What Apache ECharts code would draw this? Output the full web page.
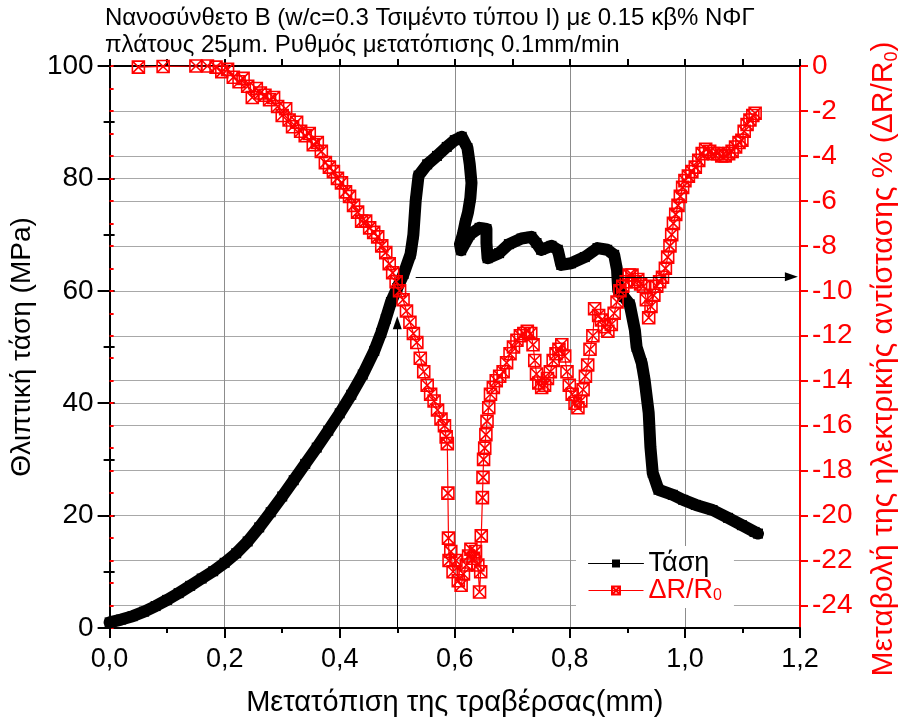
<!DOCTYPE html>
<html>
<head>
<meta charset="utf-8">
<script src="https://cdn.jsdelivr.net/npm/echarts@6/dist/echarts.min.js"></script>
<style>
  html, body { margin: 0; padding: 0; background: #fff; }
  #chart { width: 909px; height: 728px; }
</style>
</head>
<body>
<div id="chart"></div>
<script>
// Stress curve (MPa) against crosshead displacement (mm)
const stressX = [0.000, 0.02, 0.04, 0.06, 0.08, 0.10, 0.12, 0.14, 0.16, 0.18, 0.20, 0.22, 0.24, 0.26, 0.28, 0.30,
  0.32, 0.34, 0.36, 0.38, 0.40, 0.42, 0.44, 0.46, 0.472, 0.48, 0.489, 0.50, 0.511, 0.523, 0.528, 0.532, 0.537,
  0.552, 0.569, 0.586, 0.600, 0.612, 0.622, 0.626, 0.629, 0.627, 0.623, 0.618, 0.614, 0.609, 0.611, 0.626,
  0.643, 0.655, 0.655, 0.657, 0.677, 0.694, 0.716, 0.733, 0.742, 0.750, 0.768, 0.779, 0.785, 0.802, 0.826,
  0.848, 0.865, 0.877, 0.882, 0.884, 0.894, 0.904, 0.913, 0.916, 0.925, 0.930, 0.937, 0.940, 0.944, 0.954,
  0.979, 0.997, 1.019, 1.048, 1.075, 1.099, 1.121, 1.127];
const stressY = [1.0, 1.5, 2.1, 2.9, 3.9, 5.0, 6.2, 7.5, 8.8, 10.1, 11.6, 13.3, 15.4, 17.9, 20.6, 23.4,
  26.3, 29.2, 32.1, 35.1, 38.2, 41.5, 45.1, 49.3, 52.5, 55.0, 58.0, 60.5, 63.0, 66.5, 70.0, 76.0, 80.5,
  82.5, 84.0, 85.6, 86.8, 87.4, 85.4, 82.5, 79.2, 76.5, 74.0, 72.0, 70.0, 68.3, 67.2, 70.0,
  71.2, 71.0, 68.5, 65.8, 66.7, 68.3, 69.3, 69.6, 68.5, 67.3, 68.0, 67.3, 64.6, 64.9, 66.0,
  67.6, 67.3, 66.4, 63.7, 60.1, 58.9, 57.6, 53.0, 50.0, 47.1, 44.1, 38.3, 32.2, 27.6, 24.6,
  23.7, 22.8, 21.9, 21.0, 19.6, 18.3, 17.1, 16.8];

// Relative change of electrical resistance ΔR/R0 (%)
const resX = [0.050, 0.093, 0.150, 0.170, 0.185, 0.195, 0.205, 0.215, 0.225, 0.232, 0.240, 0.248, 0.255, 0.262,
  0.270, 0.278, 0.285, 0.292, 0.300, 0.306, 0.312, 0.318, 0.325, 0.332, 0.340, 0.347, 0.354, 0.361, 0.368,
  0.375, 0.382, 0.389, 0.396, 0.403, 0.410, 0.417, 0.424, 0.431, 0.438, 0.445, 0.452, 0.459, 0.466, 0.473,
  0.480, 0.486, 0.492, 0.498, 0.504, 0.510, 0.516, 0.522, 0.528, 0.534, 0.540, 0.546, 0.552, 0.558, 0.564,
  0.570, 0.576, 0.582, 0.585, 0.587, 0.588, 0.589, 0.590, 0.593, 0.597, 0.602, 0.606, 0.611, 0.615, 0.620,
  0.624, 0.628, 0.632, 0.636, 0.640, 0.643, 0.645, 0.646, 0.648, 0.649, 0.650, 0.652, 0.654, 0.656, 0.659,
  0.662, 0.667, 0.672, 0.678, 0.684, 0.690, 0.696, 0.702, 0.708, 0.714, 0.720, 0.726, 0.732, 0.736, 0.739,
  0.742, 0.746, 0.751, 0.756, 0.761, 0.766, 0.771, 0.776, 0.781, 0.786, 0.791, 0.795, 0.799, 0.804, 0.809,
  0.814, 0.819, 0.823, 0.827, 0.831, 0.835, 0.840, 0.843, 0.850, 0.855, 0.860, 0.866, 0.872, 0.877, 0.882,
  0.887, 0.892, 0.898, 0.903, 0.908, 0.913, 0.918, 0.923, 0.928, 0.933, 0.937, 0.941, 0.946, 0.951, 0.956,
  0.961, 0.966, 0.970, 0.974, 0.977, 0.980, 0.984, 0.988, 0.992, 0.996, 1.000, 1.006, 1.012, 1.018, 1.024,
  1.030, 1.036, 1.043, 1.050, 1.057, 1.064, 1.070, 1.076, 1.082, 1.088, 1.094, 1.099, 1.103, 1.108, 1.113,
  1.118, 1.122];
const resY = [-0.05, -0.02, 0.0, 0.0, -0.05, -0.25, -0.15, -0.5, -0.7, -0.55, -0.9, -1.4, -1.0, -1.2,
  -1.3, -1.5, -1.4, -1.8, -2.2, -1.9, -2.4, -2.7, -2.5, -2.9, -3.1, -3.0, -3.5, -3.4, -3.8,
  -4.3, -4.5, -4.7, -5.0, -5.2, -5.6, -5.8, -6.2, -6.5, -6.9, -6.9, -7.2, -7.4, -7.6, -8.0,
  -8.3, -8.8, -9.2, -9.6, -10.0, -10.4, -10.9, -11.4, -11.9, -12.3, -13.0, -13.6, -14.2, -14.6, -14.9,
  -15.3, -15.7, -16.0, -16.5, -16.8, -19.0, -21.0, -22.0, -21.6, -22.5, -22.0, -22.9, -23.1, -22.6, -22.2,
  -21.8, -21.5, -21.9, -21.6, -22.2, -23.4, -22.5, -20.9, -19.2, -18.3, -17.5, -17.0, -16.4, -15.8, -15.2,
  -14.6, -14.3, -14.0, -13.8, -13.6, -13.2, -12.8, -12.5, -12.2, -12.0, -11.9, -11.8, -11.9, -12.4, -13.1,
  -13.7, -14.1, -14.3, -14.2, -13.9, -13.6, -13.1, -12.8, -12.6, -12.4, -12.9, -13.6, -14.2, -14.6, -15.0,
  -15.2, -14.9, -14.4, -13.8, -13.3, -12.6, -12.0, -10.8, -11.1, -11.3, -11.6, -11.8, -11.5, -11.0, -10.5,
  -10.0, -9.8, -9.6, -9.3, -9.3, -9.6, -9.5, -9.7, -9.8, -10.4, -11.2, -10.7, -10.2, -9.8, -9.6,
  -9.4, -9.0, -8.5, -8.0, -7.5, -7.0, -6.6, -6.2, -5.8, -5.4, -5.1, -4.9, -4.7, -4.5, -4.2,
  -3.9, -3.7, -3.8, -3.9, -3.9, -4.0, -4.0, -3.9, -3.8, -3.6, -3.4, -3.3, -2.9, -2.6, -2.4,
  -2.2, -2.1];

// Axis ranges and ticks
const xTicks = [0, 1.2, 0.2];
const stressTicks = [0, 100, 20];
const resRange = [-25, 0];
const resLabels = [0, -2, -4, -6, -8, -10, -12, -14, -16, -18, -20, -22, -24];

// Annotation arrows, in displacement / stress units
const arrowUp = [[0.5, 0], [0.5, 54.3]];
const arrowRight = [[0.532, 62.5], [1.185, 62.5]];

const FONT = 'Liberation Sans, Arial, sans-serif';
const RED = '#ff0000';
const zip = (xs, ys) => xs.map((x, i) => [x, ys[i]]);
const crossBox = 'path://M0,0H10V10H0Z M0,0L10,10 M10,0L0,10';

const chart = echarts.init(document.getElementById('chart'), null, { renderer: 'canvas' });

chart.setOption({
  animation: false,
  backgroundColor: '#fff',
  textStyle: { fontFamily: FONT },
  title: {
    text: 'Νανοσύνθετο Β (w/c=0.3 Τσιμέντο τύπου Ι) με 0.15 κβ% ΝΦΓ\nπλάτους 25μm. Ρυθμός μετατόπισης 0.1mm/min',
    left: 101, top: 5, padding: [0, 4],
    textStyle: { fontFamily: FONT, fontSize: 24, fontWeight: 'normal', color: '#000', lineHeight: 27 }
  },
  grid: { left: 104, right: 103, top: 66, bottom: 100, containLabel: false },
  legend: {
    orient: 'vertical',
    left: 576, top: 546,
    padding: [4, 12, 4, 12],
    backgroundColor: '#fff',
    itemWidth: 55, itemHeight: 10, itemGap: 0,
    textStyle: {
      fontFamily: FONT, fontSize: 27, lineHeight: 27,
      rich: {
        k: { fontFamily: FONT, fontSize: 27, lineHeight: 27, color: '#000' },
        r: { fontFamily: FONT, fontSize: 27, lineHeight: 27, color: RED },
        s: { fontFamily: FONT, fontSize: 16, lineHeight: 16, color: RED, verticalAlign: 'bottom' }
      }
    },
    formatter: n => n === 'Τάση' ? '{k|Τάση}' : '{r|ΔR/R}{s|0}',
    data: [
      { name: 'Τάση', lineStyle: { width: 1, color: '#000' } },
      { name: 'ΔR/R0', lineStyle: { width: 1, color: RED } }
    ]
  },
  xAxis: [
    {
      type: 'value', position: 'bottom',
      min: xTicks[0], max: xTicks[1], interval: xTicks[2],
      name: 'Μετατόπιση της τραβέρσας(mm)', nameLocation: 'middle', nameGap: 60,
      nameTextStyle: { fontFamily: FONT, fontSize: 29, color: '#000' },
      axisLine: { onZero: false, lineStyle: { color: '#000', width: 2 } },
      axisTick: { inside: false, length: 10, lineStyle: { color: '#000', width: 2 } },
      minorTick: { show: true, splitNumber: 2, length: 5, lineStyle: { color: '#000', width: 2 } },
      axisLabel: { fontFamily: FONT, fontSize: 27, color: '#000', margin: 18,
        formatter: v => v.toFixed(1).replace('.', ',') },
      splitLine: { show: true, lineStyle: { color: '#8c8c8c', width: 1 } }
    },
    {
      type: 'value', position: 'top',
      min: xTicks[0], max: xTicks[1], interval: xTicks[2] / 2,
      axisLine: { onZero: false, lineStyle: { color: '#000', width: 2 } },
      axisTick: { inside: false, length: 7, lineStyle: { color: '#000', width: 2 } },
      axisLabel: { show: false },
      splitLine: { show: false }
    }
  ],
  yAxis: [
    {
      type: 'value', position: 'left',
      min: stressTicks[0], max: stressTicks[1], interval: stressTicks[2],
      name: 'Θλιπτική τάση (MPa)', nameLocation: 'middle', nameGap: 67, nameRotate: 90,
      nameTextStyle: { fontFamily: FONT, fontSize: 28, color: '#000' },
      axisLine: { onZero: false, lineStyle: { color: '#000', width: 2 } },
      axisTick: { inside: false, length: 12, lineStyle: { color: '#000', width: 2 } },
      minorTick: { show: true, splitNumber: 2, length: 6, lineStyle: { color: '#000', width: 2 } },
      axisLabel: { fontFamily: FONT, fontSize: 28, color: '#000', margin: 16 },
      splitLine: { show: true, lineStyle: { color: '#a8a8a8', width: 1 } }
    },
    {
      type: 'value', position: 'right',
      min: resRange[0], max: resRange[1], interval: 1,
      name: '{a|Μεταβολή της ηλεκτρικής αντίστασης % (ΔR/R}{b|0}{a|)}',
      nameLocation: 'middle', nameGap: 66, nameRotate: 90,
      nameTextStyle: {
        fontFamily: FONT, fontSize: 30, color: RED, padding: [0, 24, 0, 0],
        rich: {
          a: { fontFamily: FONT, fontSize: 30, color: RED },
          b: { fontFamily: FONT, fontSize: 18, color: RED, padding: [17, 0, 0, 0] }
        }
      },
      axisLine: { onZero: false, lineStyle: { color: RED, width: 2 } },
      axisTick: { inside: false, length: 8, customValues: resLabels, lineStyle: { color: RED, width: 2 } },
      axisLabel: { fontFamily: FONT, fontSize: 28, color: RED, margin: 12, customValues: resLabels },
      splitLine: { show: true, lineStyle: { color: '#a8a8a8', width: 1 } }
    },
    {
      // stress minor ticks repeated on the right frame edge
      type: 'value', position: 'right', offset: 0,
      min: stressTicks[0], max: stressTicks[1], interval: stressTicks[2] / 2,
      axisLine: { show: false },
      axisTick: { inside: false, length: 5, lineStyle: { color: '#000', width: 2 } },
      axisLabel: { show: false },
      splitLine: { show: false }
    },
    {
      // odd-unit ticks of the resistance scale
      type: 'value', position: 'right', offset: 0,
      min: resRange[0], max: resRange[1], interval: 1,
      axisLine: { show: false },
      axisTick: { inside: false, length: 4, lineStyle: { color: RED, width: 2 } },
      axisLabel: { show: false },
      splitLine: { show: false }
    }
  ],
  series: [
    {
      name: 'Τάση', type: 'line', xAxisIndex: 0, yAxisIndex: 0,
      data: zip(stressX, stressY),
      symbol: 'rect', symbolSize: 10, showAllSymbol: true,
      itemStyle: { color: '#000' },
      lineStyle: { color: '#000', width: 12, join: 'round', cap: 'round' },
      z: 3,
      markLine: {
        silent: true, animation: false,
        symbol: ['none', 'triangle'], symbolSize: [9, 13],
        label: { show: false },
        lineStyle: { color: '#000', width: 1, type: 'solid' },
        data: [
          [{ coord: arrowUp[0] }, { coord: arrowUp[1] }],
          [{ coord: arrowRight[0] }, { coord: arrowRight[1] }]
        ]
      }
    },
    {
      name: 'ΔR/R0', type: 'line', xAxisIndex: 0, yAxisIndex: 1,
      data: zip(resX, resY),
      symbol: crossBox, symbolSize: 12, showAllSymbol: true,
      itemStyle: { color: 'rgba(255,255,255,0)', borderColor: RED, borderWidth: 1.6 },
      lineStyle: { color: RED, width: 1.2 },
      z: 4
    }
  ]
});
</script>
</body>
</html>
